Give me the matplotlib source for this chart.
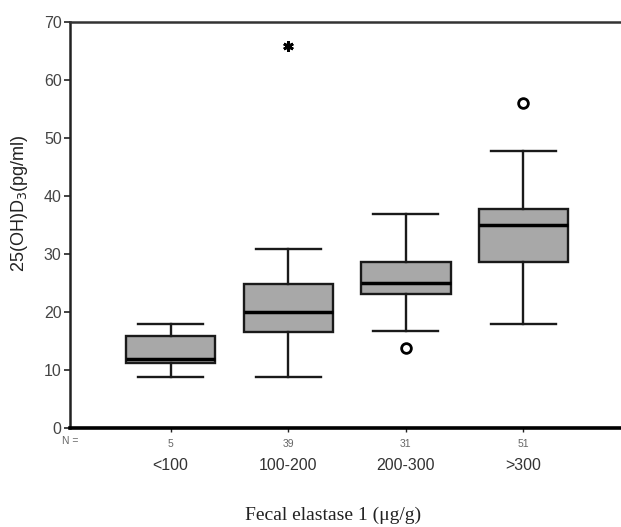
import matplotlib
matplotlib.use("Agg")
import matplotlib.pyplot as plt
import matplotlib.transforms as mtransforms

categories = ["<100", "100-200", "200-300", ">300"]
n_values = [5, 39, 31, 51]
whisker_low = [8.8, 8.9, 16.8, 18.0]
q1 = [11.2, 16.6, 23.2, 28.7]
median = [12.0, 20.0, 25.0, 35.0]
q3 = [15.9, 24.9, 28.7, 37.8]
whisker_high = [17.9, 30.9, 36.8, 47.8]
outliers_x = [3, 4]
outliers_y = [13.8, 56.0]
extremes_x = [2]
extremes_y = [65.8]
yticks = [0, 10, 20, 30, 40, 50, 60, 70]

fig = plt.figure(figsize=(6.21, 5.27), dpi=100)
ax = fig.add_axes([70/621, 1-428.3/527, 1-70/621, (428.3-21.6)/527])

stats = []
for i in range(len(categories)):
    stats.append(dict(med=median[i], q1=q1[i], q3=q3[i],
                      whislo=whisker_low[i], whishi=whisker_high[i], fliers=[]))
pos = list(range(1, len(categories)+1))
ax.bxp(stats, positions=pos, widths=0.76, capwidths=0.55, patch_artist=True,
       showfliers=False,
       boxprops=dict(facecolor="#a8a8a8", edgecolor="#1a1a1a", linewidth=1.7),
       medianprops=dict(color="black", linewidth=2.5),
       whiskerprops=dict(color="#1a1a1a", linewidth=1.7),
       capprops=dict(color="#1a1a1a", linewidth=1.7))
ax.plot(outliers_x, outliers_y, linestyle="none", marker="o", markersize=7,
        markerfacecolor="white", markeredgecolor="black", markeredgewidth=2)
ax.plot(extremes_x, extremes_y, linestyle="none", marker=(6, 2, 0), markersize=7.5,
        markeredgecolor="black", markeredgewidth=2)

ax.set_xlim(0.144, 4.83)
ax.set_ylim(0, 70)
ax.set_yticks(yticks)
ax.set_yticklabels([str(t) for t in yticks], fontsize=11.5, color="#444444",
                   family="Liberation Sans")
ax.tick_params(axis="y", direction="out", length=4, width=1.2, color="#222222", pad=2)
ax.set_xticks(pos)
ax.set_xticklabels([str(n) for n in n_values], fontsize=7.5, color="#666666",
                   family="Liberation Sans")
ax.tick_params(axis="x", direction="out", length=3, width=1, color="#222222", pad=5)

ax.spines["right"].set_visible(False)
ax.spines["left"].set_linewidth(1.8)
ax.spines["left"].set_color("#222222")
ax.spines["top"].set_linewidth(1.8)
ax.spines["top"].set_color("#333333")
ax.spines["bottom"].set_linewidth(2.6)
ax.spines["bottom"].set_color("black")

fig.text(70/621, 1-441.5/527, "N =", fontsize=7.5, color="#666666", ha="center", va="center",
         family="Liberation Sans")
cat_tr = mtransforms.blended_transform_factory(ax.transData, fig.transFigure)
for p, c in zip(pos, categories):
    ax.text(p, 1-465/527, c, transform=cat_tr, fontsize=11.5, color="#333333",
            ha="center", va="center", family="Liberation Sans")

fig.text(20/621, 1-203/527, r"25(OH)D$_3$(pg/ml)", rotation=90, fontsize=13,
         color="#222222", ha="center", va="center", family="Liberation Sans")
fig.text(0.5*(70+621)/621 - 0.02, 1-515/527, "Fecal elastase 1 (\u03bcg/g)", fontsize=14,
         color="#222222", ha="center", va="center", family="Liberation Serif")

fig.savefig("out.png", dpi=100)
